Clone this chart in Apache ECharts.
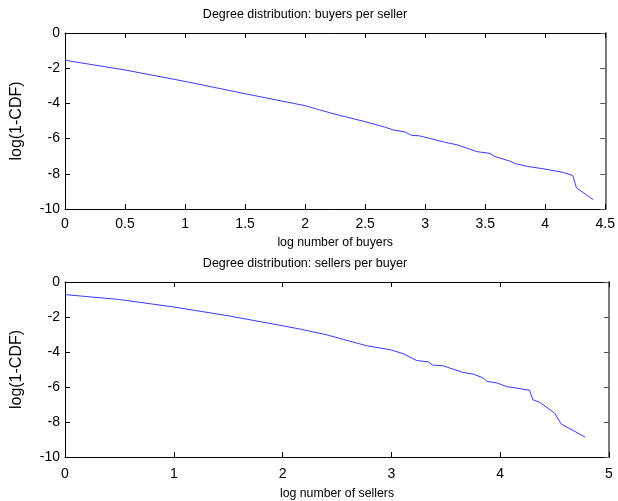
<!DOCTYPE html>
<html>
<head>
<meta charset="utf-8">
<script src="https://cdn.jsdelivr.net/npm/echarts@6/dist/echarts.min.js"></script>
<style>
html,body{margin:0;padding:0;background:#fff;}
#chart{width:618px;height:501px;}
</style>
</head>
<body>
<div id="chart"></div>
<script>
const titles = ['Degree distribution: buyers per seller', 'Degree distribution: sellers per buyer'];
const xNames = ['log number of buyers', 'log number of sellers'];
const yName = 'log(1-CDF)';

const buyersX = [0, 0.5, 1, 1.5, 2, 2.11, 2.27, 2.49, 2.66, 2.73, 2.83, 2.89, 2.95, 3.16, 3.27, 3.43, 3.54, 3.58, 3.71, 3.75, 3.85, 3.98, 4.15, 4.23, 4.26, 4.40];
const buyersY = [-1.55, -2.1, -2.75, -3.45, -4.13, -4.35, -4.65, -5.02, -5.34, -5.5, -5.62, -5.82, -5.84, -6.2, -6.36, -6.74, -6.84, -7.02, -7.29, -7.42, -7.58, -7.71, -7.92, -8.1, -8.8, -9.47];

const sellersX = [0, 0.5, 1, 1.5, 2, 2.16, 2.40, 2.77, 2.99, 3.11, 3.23, 3.34, 3.38, 3.47, 3.66, 3.75, 3.84, 3.88, 3.97, 4.06, 4.15, 4.27, 4.30, 4.36, 4.50, 4.56, 4.78];
const sellersY = [-0.72, -1.0, -1.43, -1.93, -2.5, -2.69, -3.01, -3.64, -3.87, -4.1, -4.48, -4.57, -4.75, -4.78, -5.17, -5.26, -5.47, -5.68, -5.77, -5.98, -6.06, -6.19, -6.73, -6.86, -7.49, -8.11, -8.86];

const xMax = [4.5, 5];
const xInterval = [0.5, 1];
const yMin = -10, yMax = 0, yInterval = 2;

const SANS = '"Liberation Sans", Arial, sans-serif';

const chart = echarts.init(document.getElementById('chart'), null, {renderer: 'canvas'});

const grids = [
  {left: 65, top: 33, width: 544, height: 176},
  {left: 65, top: 282, width: 544, height: 175}
];

const xAxes = [], yAxes = [], series = [];
[0, 1].forEach(function (i) {
  xAxes.push({
    type: 'value', gridIndex: i, position: 'bottom', min: 0, max: xMax[i], interval: xInterval[i],
    name: xNames[i], nameLocation: 'middle', nameGap: i === 0 ? 28 : 31,
    nameTextStyle: {fontFamily: SANS, fontSize: 12.3, color: '#000'},
    axisLine: {show: true, onZero: false, lineStyle: {color: '#000', width: 1}},
    axisTick: {show: true, inside: true, length: 5, lineStyle: {color: '#000'}},
    axisLabel: {margin: i === 0 ? 8 : 10, fontFamily: SANS, fontSize: 14, color: '#000'},
    splitLine: {show: false}
  });
  xAxes.push({
    type: 'value', gridIndex: i, position: 'top', min: 0, max: xMax[i], interval: xInterval[i],
    axisLine: {show: true, onZero: false, lineStyle: {color: '#000', width: 1}},
    axisTick: {show: true, inside: true, length: 5, lineStyle: {color: '#000'}},
    axisLabel: {show: false}, splitLine: {show: false}
  });
  yAxes.push({
    type: 'value', gridIndex: i, position: 'left', min: yMin, max: yMax, interval: yInterval,
    name: yName, nameLocation: 'middle', nameGap: 40, nameRotate: 90,
    nameTextStyle: {fontFamily: SANS, fontSize: 16, color: '#000'},
    axisLine: {show: true, onZero: false, lineStyle: {color: '#000', width: 1}},
    axisTick: {show: true, inside: true, length: 5, lineStyle: {color: '#000'}},
    axisLabel: {margin: 5, fontFamily: SANS, fontSize: 14, color: '#000'},
    splitLine: {show: false}
  });
  yAxes.push({
    type: 'value', gridIndex: i, position: 'right', min: yMin, max: yMax, interval: yInterval,
    axisLine: {show: true, onZero: false, lineStyle: {color: '#7a7a7a', width: 2}},
    axisTick: {show: true, inside: true, length: 5, lineStyle: {color: '#555'}},
    axisLabel: {show: false}, splitLine: {show: false}
  });
});

const bx = [buyersX, sellersX], by = [buyersY, sellersY];
[0, 1].forEach(function (i) {
  series.push({
    type: 'line', xAxisIndex: i * 2, yAxisIndex: i * 2,
    data: bx[i].map(function (x, k) { return [x, by[i][k]]; }),
    showSymbol: false, symbol: 'none', smooth: false,
    lineStyle: {color: '#3a3aff', width: 1},
    animation: false
  });
});

chart.setOption({
  animation: false,
  backgroundColor: '#fff',
  grid: grids,
  xAxis: xAxes,
  yAxis: yAxes,
  series: series,
  graphic: [
    {type: 'text', x: 305, y: 15, style: {text: titles[0], fontFamily: SANS, fontSize: 12.5, fill: '#000', textAlign: 'center', textVerticalAlign: 'middle'}},
    {type: 'text', x: 305, y: 264, style: {text: titles[1], fontFamily: SANS, fontSize: 12.5, fill: '#000', textAlign: 'center', textVerticalAlign: 'middle'}}
  ]
});
</script>
</body>
</html>
